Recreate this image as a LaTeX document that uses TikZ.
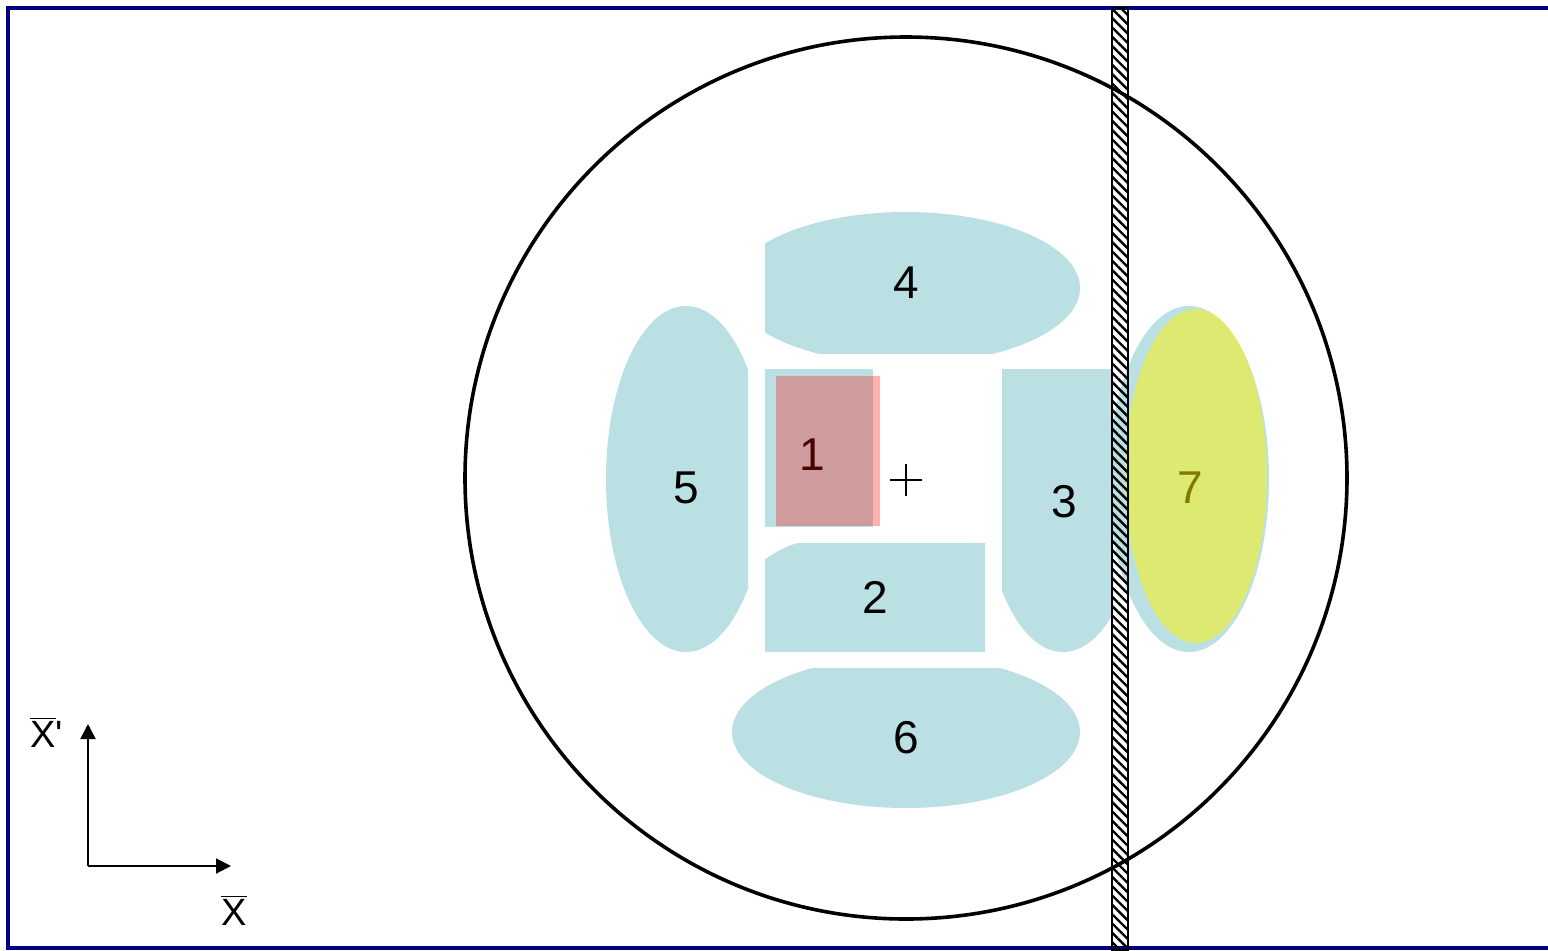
\documentclass[tikz,border=0pt]{standalone}
\usepackage{fontspec}
\setmainfont{Liberation Sans}
\usetikzlibrary{arrows.meta,patterns.meta}
\definecolor{cblue}{RGB}{187,224,227}
\definecolor{navyframe}{RGB}{0,0,128}
\begin{document}
\begin{tikzpicture}[x=0.5pt,y=-0.5pt,
  region/.style={fill=cblue},
  lbl/.style={inner sep=0pt,font=\fontsize{23}{27}\selectfont},
  axlbl/.style={inner sep=0pt,font=\fontsize{19}{23}\selectfont},
  axis/.style={line width=1pt,-{Triangle[length=7.5pt,width=7.5pt]}},
  frameline/.style={draw=navyframe,line width=1.8pt},
  barstyle/.style={draw=black,line width=0.6pt,fill=white,
    pattern={Lines[angle=-45,distance=3.3pt,line width=1.2pt]}}]
\useasboundingbox (0,0) rectangle (1548,950);
% frame
\draw[frameline] (1548,8) -- (8,8) -- (8,948) -- (1548,948);
% big circle
\draw[line width=1.8pt] (906,478) circle [radius=441];
% region 4
\begin{scope}
  \clip (765,0) rectangle (1548,353);
  \fill[region] (906,288) ellipse [x radius=174, y radius=76];
\end{scope}
% region 6
\begin{scope}
  \clip (0,668) rectangle (1548,950);
  \fill[region] (906,732) ellipse [x radius=174, y radius=76];
\end{scope}
% region 5
\begin{scope}
  \clip (0,0) rectangle (748,950);
  \fill[region] (686,479) ellipse [x radius=80, y radius=173];
\end{scope}
% region 3
\begin{scope}
  \clip (1002,369) rectangle (1112,950);
  \fill[region] (1063,479) ellipse [x radius=80, y radius=173];
\end{scope}
% region 7 (blue)
\fill[region] (1189,479) ellipse [x radius=80, y radius=173];
% region 1
\fill[region] (765,369) rectangle (873,527);
% region 2
\fill[region] (765,559) .. controls (776,552) and (786,546) .. (798,543)
  -- (985,543) -- (985,652) -- (765,652) -- cycle;
% labels
\node[lbl] (n1) at (812,455) {1};
\node[lbl] (n2) at (875,597) {2};
\node[lbl] (n3) at (1064,502) {3};
\node[lbl] (n4) at (906,283) {4};
\node[lbl] (n5) at (686,488) {5};
\node[lbl] (n6) at (906,738) {6};
\node[lbl] (n7) at (1190,488) {7};
% overlays
\fill[red,opacity=0.3] (776,376) rectangle (880,526);
\fill[yellow,opacity=0.5] (1196,476) ellipse [x radius=71, y radius=167];
% centre mark
\coordinate (cm) at (906,480);
\draw[line width=0.9pt] ([xshift=-8pt]cm) -- ([xshift=8pt]cm);
\draw[line width=0.9pt] ([yshift=-8pt]cm) -- ([yshift=8pt]cm);
% hatched bar
\path[barstyle] (1112,8) rectangle (1128,950);
\draw[line width=0.7pt] (1112,8) -- (1112,950) (1128,8) -- (1128,950);
% axes
\coordinate (o) at (88,866);
\coordinate (xa) at (231,866);
\coordinate (ya) at (88,724);
\draw[axis] (o) -- (xa);
\draw[axis] (o) -- (ya);
\node[axlbl,anchor=base west] (lxp) at (30,747) {$\overline{\mbox{X}}$\textquotesingle};
\node[axlbl,anchor=base] (lx) at (234,925) {$\overline{\mbox{X}}$};
\end{tikzpicture}
\end{document}
